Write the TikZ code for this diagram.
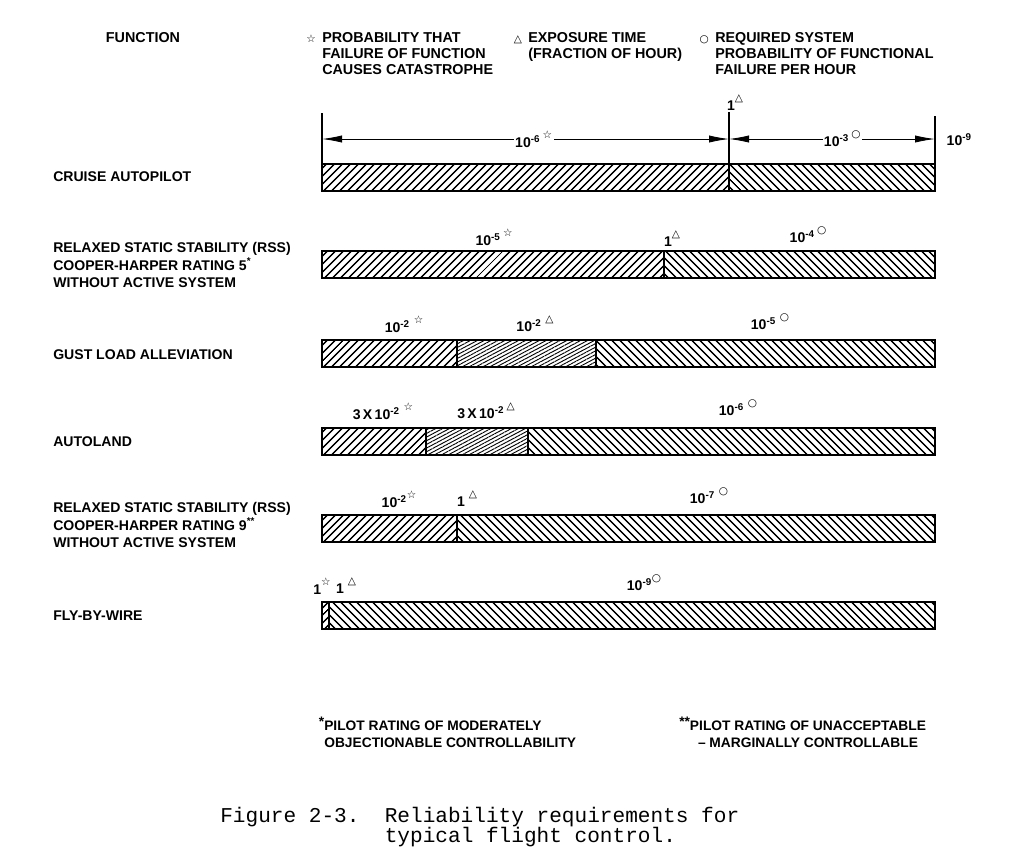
\documentclass[tikz,border=0pt]{standalone}
\usepackage{fontspec}
\setmainfont{Liberation Sans}
\newfontfamily\glyphfont{DejaVu Sans}
\newfontfamily\typewriter{Liberation Mono}
\usetikzlibrary{positioning, arrows.meta, patterns.meta}
\tikzset{
    fn/.style={font=\bfseries\fontsize{10}{12.3}\selectfont, align=left, anchor=west, inner sep=0pt},
    key/.style={font=\bfseries\fontsize{10.2}{11.5}\selectfont, align=left, anchor=north west, inner sep=0pt},
    note/.style={font=\bfseries\fontsize{9.8}{12}\selectfont, anchor=north west, align=left, inner sep=0pt},
    val/.style={font=\bfseries\fontsize{10}{11}\selectfont, inner sep=1pt},
    capt/.style={font=\typewriter\fontsize{15}{14.2}\selectfont, anchor=north west, align=left, inner sep=0pt},
    up/.style={pattern={Lines[angle=45, distance=4pt, line width=1.2pt]}},
    down/.style={pattern={Lines[angle=-45, distance=4pt, line width=1.2pt]}},
    fine/.style={pattern={Lines[angle=28, distance=2.3pt, line width=0.65pt]}},
    bar/.style={draw, line width=1.5pt},
    dim/.style={{Latex[length=5mm,width=1.8mm]}-{Latex[length=5mm,width=1.8mm]}, line width=0.6pt}
}
\newcommand{\pcat}{\raisebox{1.2ex}{\glyphfont\fontsize{7.5}{7.5}\selectfont ☆}}
\newcommand{\pexp}{\raisebox{1.2ex}{\glyphfont\fontsize{7.5}{7.5}\selectfont △}}
\newcommand{\preq}{\raisebox{1.2ex}{\glyphfont\fontsize{7.5}{7.5}\selectfont ○}}
\newcommand{\ten}[1]{10\textsuperscript{-#1}}
\newcommand{\keysym}[1]{\llap{{\glyphfont\fontsize{7.5}{7.5}\selectfont #1}\ \,}}

\begin{document}
\begin{tikzpicture}[x=0.025cm, y=-0.025cm]
\useasboundingbox (0,0) rectangle (1024,858);

% headings and key
\node[key, anchor=north] (head) at (143,32) {FUNCTION};
\node[key] (kcat) at (322,32) {\keysym{☆}PROBABILITY THAT\\FAILURE OF FUNCTION\\CAUSES CATASTROPHE};
\node[key] (kexp) at (528,32) {\keysym{△}EXPOSURE TIME\\(FRACTION OF HOUR)};
\node[key] (kreq) at (715,32) {\keysym{○}REQUIRED SYSTEM\\PROBABILITY OF FUNCTIONAL\\FAILURE PER HOUR};

% functions
\node[fn] (f1) at (53,177) {CRUISE AUTOPILOT};
\node[fn] (f2) at (53,265) {RELAXED STATIC STABILITY (RSS)\\COOPER-HARPER RATING 5\textsuperscript{*}\\WITHOUT ACTIVE SYSTEM};
\node[fn] (f3) at (53,355) {GUST LOAD ALLEVIATION};
\node[fn] (f4) at (53,442) {AUTOLAND};
\node[fn] (f5) at (53,525) {RELAXED STATIC STABILITY (RSS)\\COOPER-HARPER RATING 9\textsuperscript{**}\\WITHOUT ACTIVE SYSTEM};
\node[fn] (f6) at (53,616) {FLY-BY-WIRE};

% bars: top, end of catastrophe part, end of exposure part
\foreach \y/\a/\b in {164/729/729, 251/664/664, 340/457/596, 428/426/528, 515/457/457, 602/329/329}{
    \pattern[up] (322,\y) rectangle (\a,\y+27);
    \pattern[fine] (\a,\y) rectangle (\b,\y+27);
    \pattern[down] (\b,\y) rectangle (935,\y+27);
    \draw[line width=0.8pt] (\a,\y) -- (\a,\y+27) (\b,\y) -- (\b,\y+27);
    \draw[bar] (322,\y) rectangle (935,\y+27);
}

% dimension line over the first bar
\draw[line width=0.8pt] (322,113) -- (322,164);
\draw[line width=0.8pt] (935,116) -- (935,164);
\draw[line width=1.5pt] (729,112) -- (729,191);
\coordinate (dl) at (322,139);
\coordinate (dm) at (729,139);
\coordinate (dr) at (935,139);
\draw[dim] (dl) -- node[val, fill=white, pos=0.52] (v11) {\ten{6}\,\pcat} (dm);
\draw[dim] (dm) -- node[val, fill=white, pos=0.55] (v13) {\ten{3}\,\preq} (dr);
\node[val] (v12) at (735,103) {1\pexp};
\node[val, anchor=west] (v14) at (945,140) {\ten{9}};

% values
\node[val] (v21) at (494,237) {\ten{5}\,\pcat};
\node[val] (v22) at (672,239) {1\pexp};
\node[val] (v23) at (808,235) {\ten{4}\,\preq};
\node[val] (v31) at (404,324) {\ten{2}\ \pcat};
\node[val] (v32) at (535,324) {\ten{2}\ \pexp};
\node[val] (v33) at (770,322) {\ten{5}\ \preq};
\node[val] (v41) at (383,411) {3\,X\,\ten{2}\ \pcat};
\node[val] (v42) at (486,411) {3\,X\,\ten{2}\,\pexp};
\node[val] (v43) at (738,408) {\ten{6}\ \preq};
\node[val] (v51) at (399,499) {\ten{2}\pcat};
\node[val] (v52) at (467,499) {1\ \pexp};
\node[val] (v53) at (709,496) {\ten{7}\ \preq};
\node[val] (v61) at (322,586) {1\pcat};
\node[val] (v62) at (346,586) {1\ \pexp};
\node[val] (v63) at (644,583) {\ten{9}\preq};

% notes and caption
\node[note] (n1) at (324,717) {\llap{\raisebox{.5ex}{*}}PILOT RATING OF MODERATELY\\OBJECTIONABLE CONTROLLABILITY};
\node[note, anchor=north, align=center] (n2) at (808,717) {\llap{\raisebox{.5ex}{**}}PILOT RATING OF UNACCEPTABLE\\-- MARGINALLY CONTROLLABLE};
\node[capt] (cap) at (220,807) {Figure 2-3.\ \ Reliability requirements for\\\phantom{Figure 2-3.\ \ }typical flight control.};
\end{tikzpicture}
\end{document}
